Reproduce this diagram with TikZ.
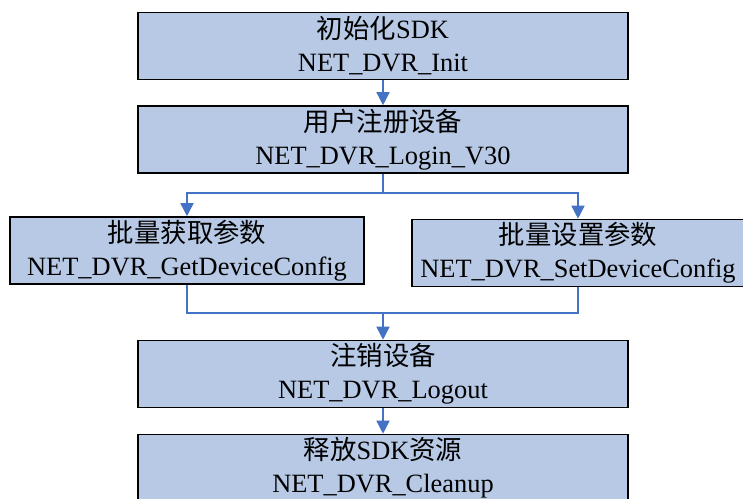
\documentclass[tikz,border=0pt]{standalone}
\usepackage{fontspec}
\setmainfont{Liberation Serif}
\newfontfamily\cjk{Noto Sans CJK SC}
\usetikzlibrary{arrows.meta}
\definecolor{boxfill}{HTML}{B7C9E5}
\definecolor{linkblue}{HTML}{4472C4}
\tikzset{
  stepbox/.style={draw=black, line width=1.6pt, fill=boxfill, align=center,
    font=\fontsize{26.4}{33}\selectfont, inner sep=0pt, minimum height=67pt},
  link/.style={draw=linkblue, line width=1.6pt},
  arr/.style={link, -{Triangle[width=13pt,length=13pt]}}
}
\begin{document}
\begin{tikzpicture}[x=1pt,y=-1pt]
\useasboundingbox (0,0) rectangle (743,498);
\node[stepbox, minimum width=490pt] (init) at (383,46) {{\cjk 初始化}SDK\\NET\_DVR\_Init};
\node[stepbox, minimum width=490pt] (login) at (383,139.5) {{\cjk 用户注册设备}\\NET\_DVR\_Login\_V30};
\node[stepbox, minimum width=354pt] (get) at (187,250.5) {{\cjk 批量获取参数}\\NET\_DVR\_GetDeviceConfig};
\node[stepbox, minimum width=332pt] (set) at (578,253) {{\cjk 批量设置参数}\\NET\_DVR\_SetDeviceConfig};
\node[stepbox, minimum width=490pt] (logout) at (383,374) {{\cjk 注销设备}\\NET\_DVR\_Logout};
\node[stepbox, minimum width=490pt] (clean) at (383,468) {{\cjk 释放}SDK{\cjk 资源}\\NET\_DVR\_Cleanup};
\coordinate (split) at (383,193);
\coordinate (join) at (383,313);
\draw[arr] (init) -- (login);
\draw[link] (login.south) -- (split);
\draw[arr] (split) -| (get.north);
\draw[arr] (split) -| (set.north);
\draw[link] (get.south) |- (join);
\draw[link] (set.south) |- (join);
\draw[arr] (join) -- (logout.north);
\draw[arr] (logout) -- (clean);
\end{tikzpicture}
\end{document}
